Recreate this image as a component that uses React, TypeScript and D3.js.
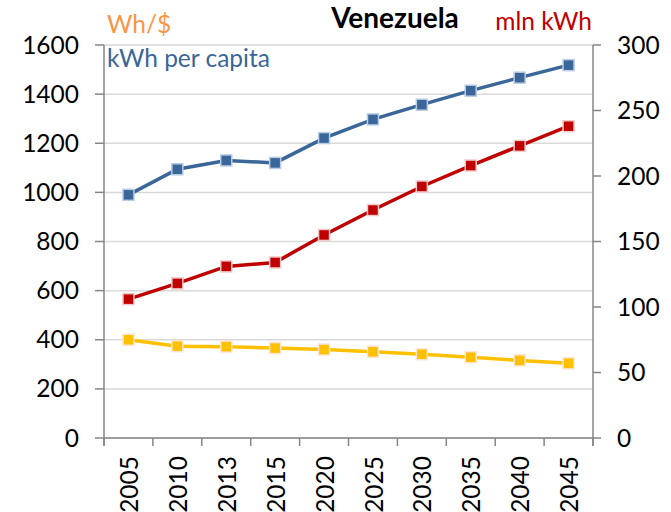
import React from "react";
import * as d3 from "d3";

const categories = ["2005", "2010", "2013", "2015", "2020", "2025", "2030", "2035", "2040", "2045"];
const kwhPerCapita = [990, 1094, 1130, 1120, 1221, 1297, 1357, 1414, 1467, 1518];
const mlnKwh = [106, 118, 131, 134, 155, 174, 192, 208, 223, 238];
const whPerDollar = [400, 374, 372, 366, 360, 351, 341, 329, 316, 304];
const leftTicks = [0, 200, 400, 600, 800, 1000, 1200, 1400, 1600];
const rightTicks = [0, 50, 100, 150, 200, 250, 300];

const FONT = "Lato, 'Liberation Sans', sans-serif";

export default function App() {
  const W = 671, H = 512;
  const left = 104, right = 593, top = 45, bottom = 438;
  const x = d3.scaleBand<string>().domain(categories).range([left, right]).padding(0);
  const yL = d3.scaleLinear().domain([0, 1600]).range([bottom, top]);
  const yR = d3.scaleLinear().domain([0, 300]).range([bottom, top]);
  const cx = (c: string) => (x(c) as number) + x.bandwidth() / 2;

  const series = [
    { vals: kwhPerCapita, scale: yL, line: "#3A6699", fill: "#3A6699", stroke: "#B8CCE4" },
    { vals: mlnKwh, scale: yR, line: "#C00000", fill: "#C00000", stroke: "#F2C9C9" },
    { vals: whPerDollar, scale: yL, line: "#FFC000", fill: "#FFC000", stroke: "#FCE4CF" },
  ];

  const bounds = [...categories.map((c) => x(c) as number), right];
  const ms = 11;
  const fs = 24.5;

  return (
    <svg width={W} height={H} style={{ position: "absolute", left: 0, top: 0, background: "#fff" }} fontFamily={FONT}>
      {leftTicks.map((t) => (
        <line key={"g" + t} x1={left} x2={right} y1={yL(t)} y2={yL(t)} stroke="#D9D9D9" strokeWidth={1.5} />
      ))}
      {/* left axis */}
      <line x1={left} x2={left} y1={top} y2={bottom + 8} stroke="#868686" strokeWidth={1.5} />
      {leftTicks.map((t) => (
        <g key={"l" + t}>
          <line x1={left - 9} x2={left} y1={yL(t)} y2={yL(t)} stroke="#868686" strokeWidth={1.5} />
          <text x={79} y={yL(t)} dy="0.35em" textAnchor="end" fontSize={fs} fill="#000">{t}</text>
        </g>
      ))}
      {/* right axis */}
      <line x1={right} x2={right} y1={top} y2={bottom + 8} stroke="#868686" strokeWidth={1.5} />
      {rightTicks.map((t) => (
        <g key={"r" + t}>
          <line x1={right} x2={right + 8} y1={yR(t)} y2={yR(t)} stroke="#868686" strokeWidth={1.5} />
          <text x={617} y={yR(t)} dy="0.35em" textAnchor="start" fontSize={fs} fill="#000">{t}</text>
        </g>
      ))}
      {/* bottom axis */}
      <line x1={left} x2={right} y1={bottom} y2={bottom} stroke="#868686" strokeWidth={1.5} />
      {bounds.map((b, i) => (
        <line key={"b" + i} x1={b} x2={b} y1={bottom} y2={bottom + 8} stroke="#868686" strokeWidth={1.5} />
      ))}
      {categories.map((c) => (
        <text key={"x" + c} transform={`translate(${cx(c) + 1},456) rotate(-90)`} dy="0.35em" textAnchor="end" fontSize={fs} fill="#000">{c}</text>
      ))}
      {series.map((s, si) => {
        const line = d3.line<number>().x((_, i) => cx(categories[i])).y((v) => s.scale(v));
        return (
          <g key={"s" + si}>
            <path d={line(s.vals) as string} fill="none" stroke={s.line} strokeWidth={3.5} />
            {s.vals.map((v, i) => (
              <rect key={i} x={cx(categories[i]) - ms / 2} y={s.scale(v) - ms / 2} width={ms} height={ms} fill={s.fill} stroke={s.stroke} strokeWidth={1.5} />
            ))}
          </g>
        );
      })}
      <text x={395} y={28} textAnchor="middle" fontSize={28} fontWeight="bold" fill="#000">Venezuela</text>
      <text x={107} y={33} fontSize={fs} fill="#F79646">Wh/$</text>
      <text x={107} y={67} fontSize={fs} fill="#3A6699">kWh per capita</text>
      <text x={592} y={30} textAnchor="end" fontSize={fs} fill="#C00000">mln kWh</text>
    </svg>
  );
}
